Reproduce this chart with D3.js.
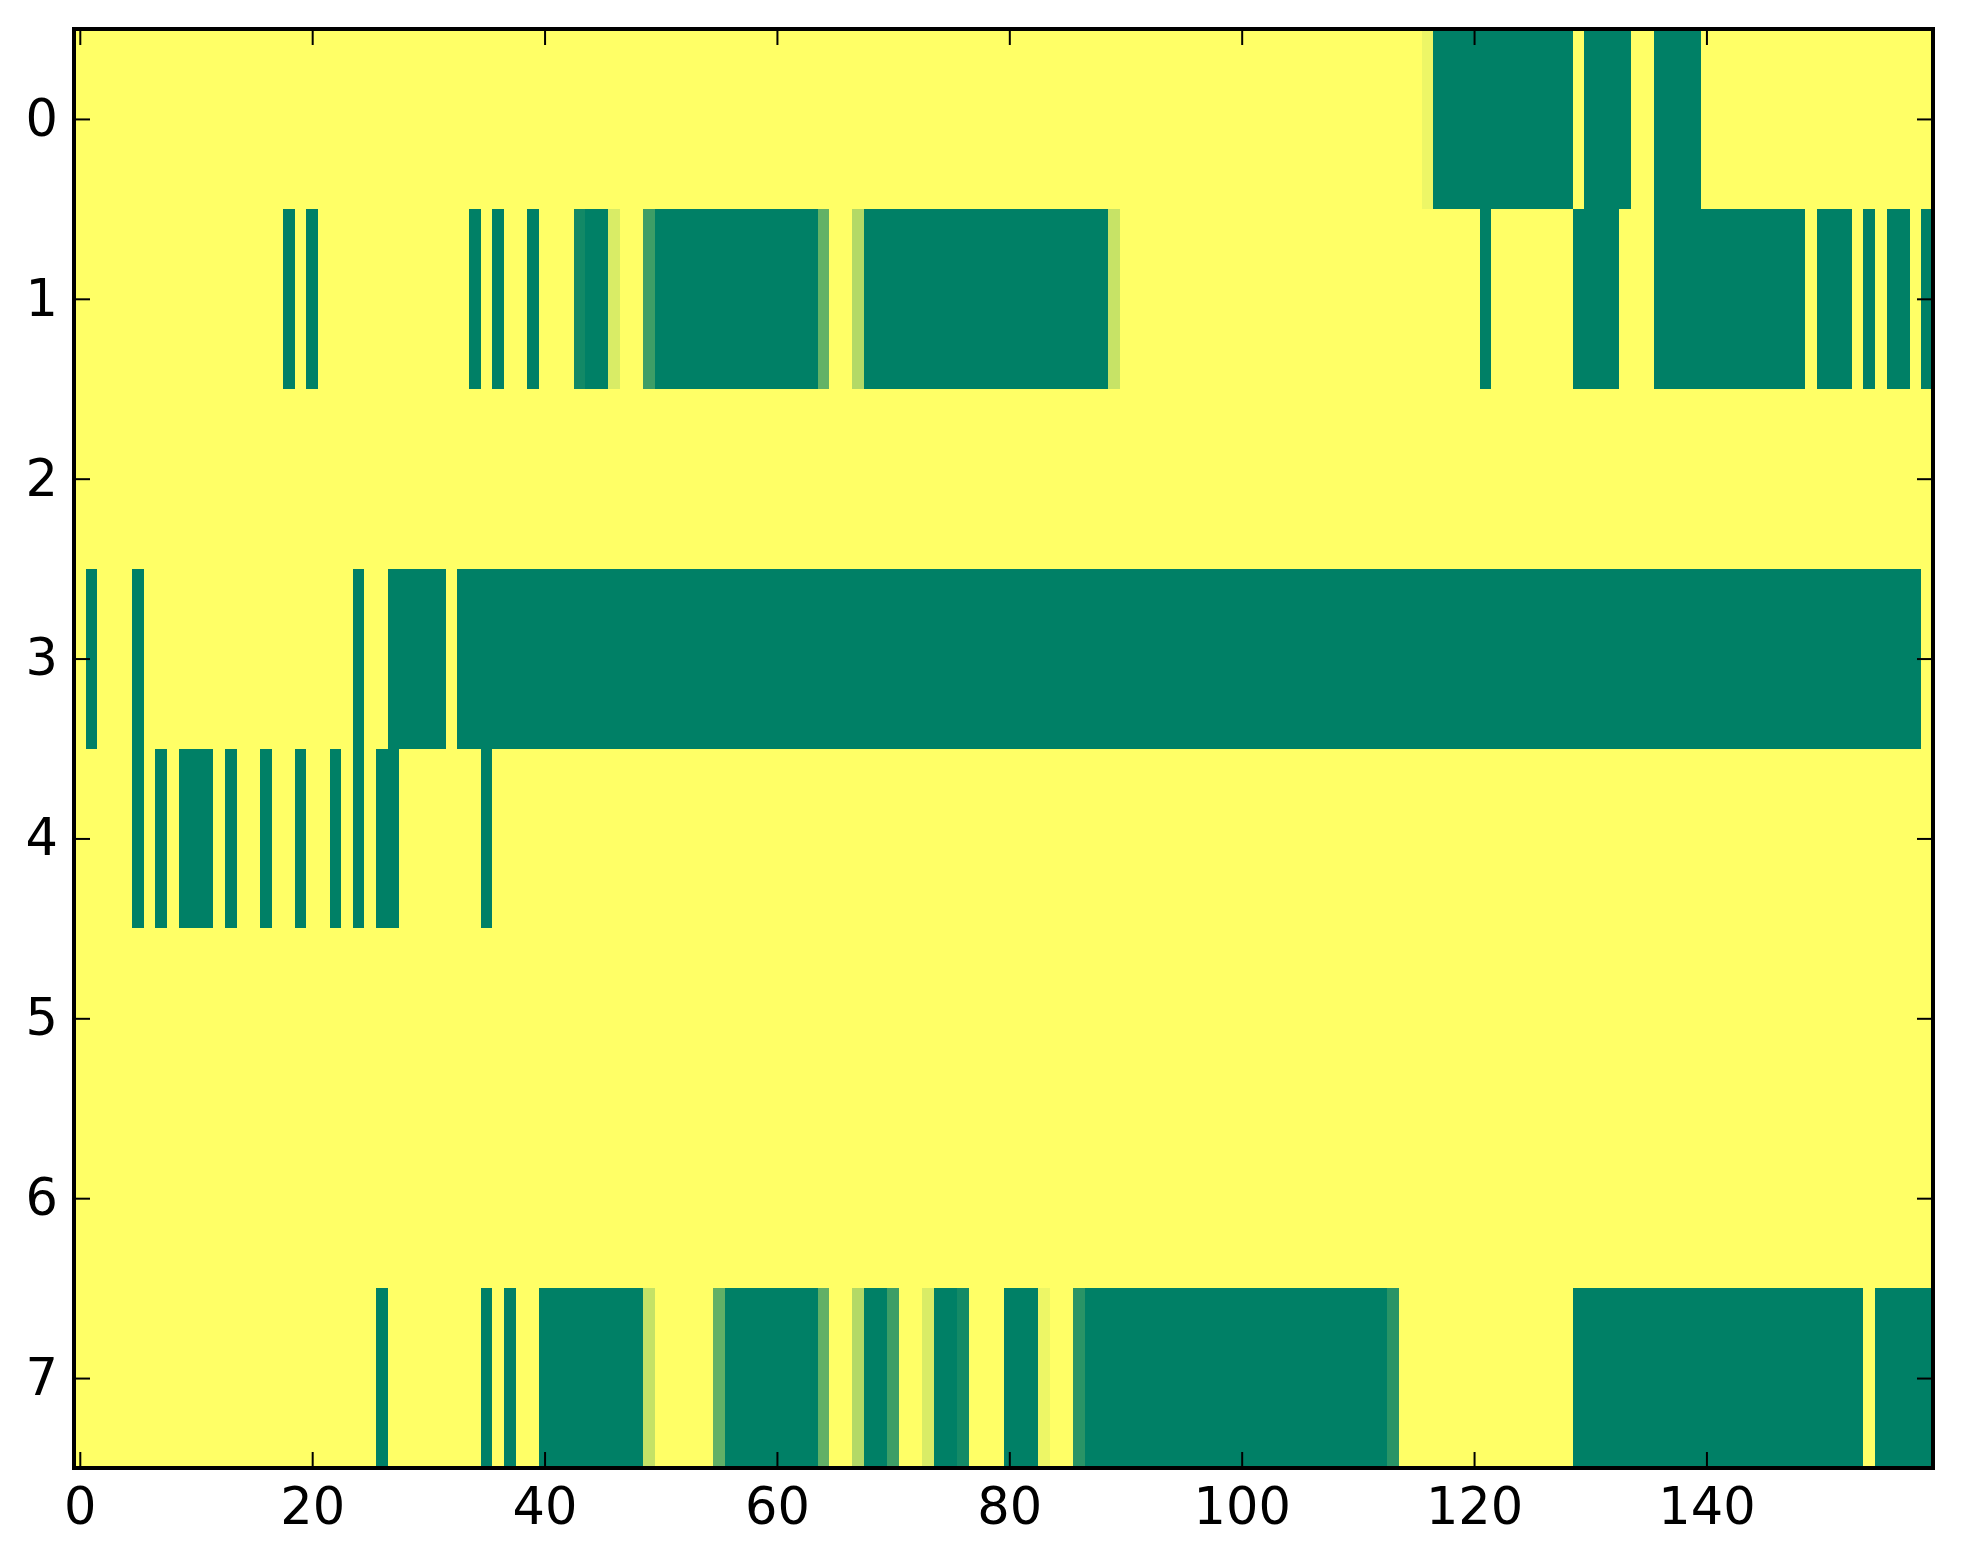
<!DOCTYPE html>
<html>
<head>
<meta charset="utf-8">
<script src="https://cdn.jsdelivr.net/npm/d3@7"></script>
<style>
  body { margin: 0; background: #fff; }
  text { font-family: "DejaVu Sans", sans-serif; }
</style>
</head>
<body>
<svg id="chart"></svg>
<script>
// cell values per row (0 = yellow, 1 = green), 160 columns each
const row0 = [
  0,0,0,0,0,0,0,0,0,0, 0,0,0,0,0,0,0,0,0,0,
  0,0,0,0,0,0,0,0,0,0, 0,0,0,0,0,0,0,0,0,0,
  0,0,0,0,0,0,0,0,0,0, 0,0,0,0,0,0,0,0,0,0,
  0,0,0,0,0,0,0,0,0,0, 0,0,0,0,0,0,0,0,0,0,
  0,0,0,0,0,0,0,0,0,0, 0,0,0,0,0,0,0,0,0,0,
  0,0,0,0,0,0,0,0,0,0, 0,0,0,0,0,0,0.07,1,1,1,
  1,1,1,1,1,1,1,1,1,0, 1,1,1,1,0,0,1,1,1,1,
  0,0,0,0,0,0,0,0,0,0, 0,0,0,0,0,0,0,0,0,0,
];
const row1 = [
  0,0,0,0,0,0,0,0,0,0, 0,0,0,0,0,0,0,0,1,0,
  1,0,0,0,0,0,0,0,0,0, 0,0,0,0,1,0,1,0,0,1,
  0,0,0,0.93,1,1,0.15,0,0,0.76, 1,1,1,1,1,1,1,1,1,1,
  1,1,1,1,0.61,0,0,0.3,1,1, 1,1,1,1,1,1,1,1,1,1,
  1,1,1,1,1,1,1,1,1,0.22, 0,0,0,0,0,0,0,0,0,0,
  0,0,0,0,0,0,0,0,0,0, 0,0,0,0,0,0,0,0,0,0,
  0,1,0,0,0,0,0,0,0,1, 1,1,1,0,0,0,1,1,1,1,
  1,1,1,1,1,1,1,1,1,0, 1,1,1,0,1,0,1,1,0,1,
];
const row2 = [
  0,0,0,0,0,0,0,0,0,0, 0,0,0,0,0,0,0,0,0,0,
  0,0,0,0,0,0,0,0,0,0, 0,0,0,0,0,0,0,0,0,0,
  0,0,0,0,0,0,0,0,0,0, 0,0,0,0,0,0,0,0,0,0,
  0,0,0,0,0,0,0,0,0,0, 0,0,0,0,0,0,0,0,0,0,
  0,0,0,0,0,0,0,0,0,0, 0,0,0,0,0,0,0,0,0,0,
  0,0,0,0,0,0,0,0,0,0, 0,0,0,0,0,0,0,0,0,0,
  0,0,0,0,0,0,0,0,0,0, 0,0,0,0,0,0,0,0,0,0,
  0,0,0,0,0,0,0,0,0,0, 0,0,0,0,0,0,0,0,0,0,
];
const row3 = [
  0,1,0,0,0,1,0,0,0,0, 0,0,0,0,0,0,0,0,0,0,
  0,0,0,0,1,0,0,1,1,1, 1,1,0,1,1,1,1,1,1,1,
  1,1,1,1,1,1,1,1,1,1, 1,1,1,1,1,1,1,1,1,1,
  1,1,1,1,1,1,1,1,1,1, 1,1,1,1,1,1,1,1,1,1,
  1,1,1,1,1,1,1,1,1,1, 1,1,1,1,1,1,1,1,1,1,
  1,1,1,1,1,1,1,1,1,1, 1,1,1,1,1,1,1,1,1,1,
  1,1,1,1,1,1,1,1,1,1, 1,1,1,1,1,1,1,1,1,1,
  1,1,1,1,1,1,1,1,1,1, 1,1,1,1,1,1,1,1,1,0,
];
const row4 = [
  0,0,0,0,0,1,0,1,0,1, 1,1,0,1,0,0,1,0,0,1,
  0,0,1,0,1,0,1,1,0,0, 0,0,0,0,0,1,0,0,0,0,
  0,0,0,0,0,0,0,0,0,0, 0,0,0,0,0,0,0,0,0,0,
  0,0,0,0,0,0,0,0,0,0, 0,0,0,0,0,0,0,0,0,0,
  0,0,0,0,0,0,0,0,0,0, 0,0,0,0,0,0,0,0,0,0,
  0,0,0,0,0,0,0,0,0,0, 0,0,0,0,0,0,0,0,0,0,
  0,0,0,0,0,0,0,0,0,0, 0,0,0,0,0,0,0,0,0,0,
  0,0,0,0,0,0,0,0,0,0, 0,0,0,0,0,0,0,0,0,0,
];
const row5 = [
  0,0,0,0,0,0,0,0,0,0, 0,0,0,0,0,0,0,0,0,0,
  0,0,0,0,0,0,0,0,0,0, 0,0,0,0,0,0,0,0,0,0,
  0,0,0,0,0,0,0,0,0,0, 0,0,0,0,0,0,0,0,0,0,
  0,0,0,0,0,0,0,0,0,0, 0,0,0,0,0,0,0,0,0,0,
  0,0,0,0,0,0,0,0,0,0, 0,0,0,0,0,0,0,0,0,0,
  0,0,0,0,0,0,0,0,0,0, 0,0,0,0,0,0,0,0,0,0,
  0,0,0,0,0,0,0,0,0,0, 0,0,0,0,0,0,0,0,0,0,
  0,0,0,0,0,0,0,0,0,0, 0,0,0,0,0,0,0,0,0,0,
];
const row6 = [
  0,0,0,0,0,0,0,0,0,0, 0,0,0,0,0,0,0,0,0,0,
  0,0,0,0,0,0,0,0,0,0, 0,0,0,0,0,0,0,0,0,0,
  0,0,0,0,0,0,0,0,0,0, 0,0,0,0,0,0,0,0,0,0,
  0,0,0,0,0,0,0,0,0,0, 0,0,0,0,0,0,0,0,0,0,
  0,0,0,0,0,0,0,0,0,0, 0,0,0,0,0,0,0,0,0,0,
  0,0,0,0,0,0,0,0,0,0, 0,0,0,0,0,0,0,0,0,0,
  0,0,0,0,0,0,0,0,0,0, 0,0,0,0,0,0,0,0,0,0,
  0,0,0,0,0,0,0,0,0,0, 0,0,0,0,0,0,0,0,0,0,
];
const row7 = [
  0,0,0,0,0,0,0,0,0,0, 0,0,0,0,0,0,0,0,0,0,
  0,0,0,0,0,0,1,0,0,0, 0,0,0,0,0,1,0,1,0,0,
  1,1,1,1,1,1,1,1,1,0.23, 0,0,0,0,0,0.62,1,1,1,1,
  1,1,1,1,0.62,0,0,0.3,1,1, 0.76,0,0,0.15,1,1,0.92,0,0,0,
  1,1,1,0.07,0,0,0.84,1,1,1, 1,1,1,1,1,1,1,1,1,1,
  1,1,1,1,1,1,1,1,1,1, 1,1,1,0.84,0,0,0,0,0,0,
  0,0,0,0,0,0,0,0,0,1, 1,1,1,1,1,1,1,1,1,1,
  1,1,1,1,1,1,1,1,1,1, 1,1,1,1,0,1,1,1,1,1,
];
const rows = [row0, row1, row2, row3, row4, row5, row6, row7];

const xTicks = [0, 20, 40, 60, 80, 100, 120, 140];
const yTicks = [0, 1, 2, 3, 4, 5, 6, 7];

const svgWidth = 1963;
const svgHeight = 1564;
const margin = { top: 29, right: 30, bottom: 96, left: 74 };
const chartWidth = svgWidth - margin.left - margin.right;
const chartHeight = svgHeight - margin.top - margin.bottom;
const nCols = row0.length;
const tickLen = 16;
const fontSize = 51;

const svg = d3.select("#chart")
  .attr("width", svgWidth)
  .attr("height", svgHeight);

svg.append("rect")
  .attr("width", svgWidth)
  .attr("height", svgHeight)
  .attr("fill", "#fff");

const chart = svg.append("g")
  .attr("transform", `translate(${margin.left},${margin.top})`);

// imshow-like extents: cell centres on integers
const x = d3.scaleLinear().domain([-0.5, nCols - 0.5]).range([0, chartWidth]);
const y = d3.scaleLinear().domain([-0.5, rows.length - 0.5]).range([0, chartHeight]);

// summer_r colormap: linear in RGB between yellow and green
const color = d3.scaleLinear()
  .domain([0, 1])
  .range(["#ffff66", "#008066"])
  .interpolate(d3.interpolateRgb);

const cells = rows.flatMap((r, ri) => r.map((v, ci) => ({ row: ri, col: ci, value: v })));

chart.append("g")
  .attr("class", "cells")
  .selectAll("rect")
  .data(cells)
  .join("rect")
  .attr("x", (d) => x(d.col - 0.5))
  .attr("y", (d) => y(d.row - 0.5))
  .attr("width", x(1) - x(0) + 0.6)
  .attr("height", y(1) - y(0) + 0.6)
  .attr("fill", (d) => color(d.value))
  .attr("shape-rendering", "crispEdges");

// axes: ticks point inward on all four sides
function styleAxis(g) {
  g.select(".domain").remove();
  g.selectAll(".tick line").attr("stroke", "#000").attr("stroke-width", 2);
  g.selectAll(".tick text")
    .attr("fill", "#000")
    .style("font-size", `${fontSize}px`)
    .style("font-family", "'DejaVu Sans', sans-serif");
}

chart.append("g")
  .attr("transform", `translate(0,${chartHeight})`)
  .call(d3.axisBottom(x).tickValues(xTicks).tickSizeInner(-tickLen).tickSizeOuter(0).tickPadding(20))
  .call(styleAxis);

chart.append("g")
  .call(d3.axisTop(x).tickValues(xTicks).tickSizeInner(-tickLen).tickSizeOuter(0).tickFormat(""))
  .call(styleAxis);

chart.append("g")
  .call(d3.axisLeft(y).tickValues(yTicks).tickSizeInner(-tickLen).tickSizeOuter(0).tickPadding(16))
  .call(styleAxis);

chart.append("g")
  .attr("transform", `translate(${chartWidth},0)`)
  .call(d3.axisRight(y).tickValues(yTicks).tickSizeInner(-tickLen).tickSizeOuter(0).tickFormat(""))
  .call(styleAxis);

// frame
chart.append("rect")
  .attr("width", chartWidth)
  .attr("height", chartHeight)
  .attr("fill", "none")
  .attr("stroke", "#000")
  .attr("stroke-width", 4);
</script>
</body>
</html>
